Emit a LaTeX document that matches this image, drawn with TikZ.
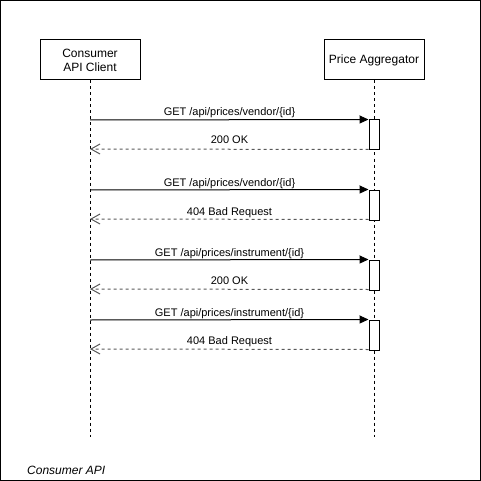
\documentclass[tikz,border=0pt]{standalone}
\usepackage{fontspec}
\setmainfont{Liberation Sans}
\usetikzlibrary{arrows.meta}
\tikzset{
      partbox/.style={
          rectangle,
          draw=black,
          line width=1pt,
          minimum width=100pt,
          minimum height=40pt,
          inner sep=0pt,
          align=center,
          font=\fontsize{12}{14}\selectfont
      },
      actbox/.style={
          rectangle,
          draw=black,
          fill=white,
          line width=1pt,
          minimum width=10pt,
          minimum height=30pt,
          inner sep=0pt
      },
      lifeline/.style={line width=1pt, dash pattern=on 3pt off 3pt},
      callmsg/.style={line width=1pt, -{Triangle[length=9pt,width=8pt]}},
      replymsg/.style={line width=1pt, black!65, dash pattern=on 3pt off 3pt,
          -{Straight Barb[length=9pt,width=10pt,line width=1pt]}},
      msglabel/.style={anchor=base, inner sep=0pt, font=\fontsize{11}{13}\selectfont}
  }

\begin{document}
\begin{tikzpicture}[x=1pt,y=-1pt]
    \useasboundingbox (0,0) rectangle (481,481);
    \draw[line width=1pt] (0.5,0.5) rectangle (480.5,480.5);

    \node [partbox] (client) at (90,60) {Consumer\\API Client};
    \node [partbox] (agg) at (374,60) {Price Aggregator};

    \coordinate (clientend) at (90,437);
    \coordinate (aggend) at (374,437);
    \draw[lifeline] (client.south) -- (clientend);
    \draw[lifeline] (agg.south) -- (aggend);

    \node [actbox] (a1) at (374,135) {};
    \node [actbox] (a2) at (374,205) {};
    \node [actbox] (a3) at (374,275) {};
    \node [actbox] (a4) at (374,335) {};

    \coordinate (q1) at (90,120);
    \coordinate (r1) at (90,149);
    \coordinate (q2) at (90,190);
    \coordinate (r2) at (90,219);
    \coordinate (q3) at (90,260);
    \coordinate (r3) at (90,289);
    \coordinate (q4) at (90,320);
    \coordinate (r4) at (90,349);

    \draw[callmsg] (q1) -- (a1.north west);
    \draw[replymsg] (a1.south west) ++(0,-1) -- (r1);
    \draw[callmsg] (q2) -- (a2.north west);
    \draw[replymsg] (a2.south west) ++(0,-1) -- (r2);
    \draw[callmsg] (q3) -- (a3.north west);
    \draw[replymsg] (a3.south west) ++(0,-1) -- (r3);
    \draw[callmsg] (q4) -- (a4.north west);
    \draw[replymsg] (a4.south west) ++(0,-1) -- (r4);

    \node [msglabel] (m1) at (229.5,116) {GET /api/prices/vendor/\{id\}};
    \node [msglabel] (m2) at (229.5,144) {200 OK};
    \node [msglabel] (m3) at (229.5,186) {GET /api/prices/vendor/\{id\}};
    \node [msglabel] (m4) at (229.5,215) {404 Bad Request};
    \node [msglabel] (m5) at (229.5,256) {GET /api/prices/instrument/\{id\}};
    \node [msglabel] (m6) at (229.5,284) {200 OK};
    \node [msglabel] (m7) at (229.5,316) {GET /api/prices/instrument/\{id\}};
    \node [msglabel] (m8) at (229.5,344) {404 Bad Request};

    \node [anchor=base west, inner sep=0pt, font=\fontsize{12}{14}\selectfont\itshape] (frame) at (27,474) {Consumer API};
\end{tikzpicture}
\end{document}
